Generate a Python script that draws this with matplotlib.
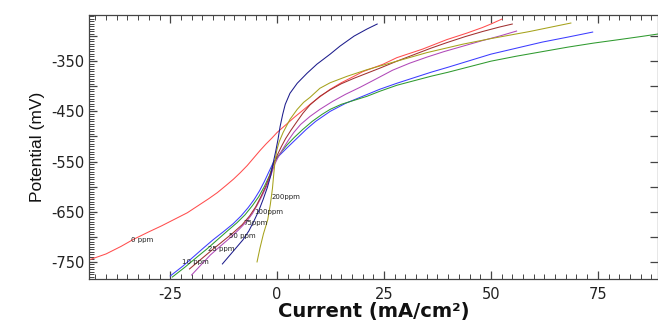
import matplotlib
matplotlib.use("Agg")
import matplotlib.pyplot as plt
from matplotlib.ticker import MultipleLocator, FixedLocator, FuncFormatter

plt.rcParams['axes.unicode_minus'] = False

# ---- data (current mA/cm^2, potential mV) ----
red_0_x = [-44, -40, -36.5, -33.6, -30, -27, -24, -21, -18.5, -16, -14, -12, -10.2, -8.6, -7, -5.5, -4, -2.6, -1.2, 0,
           2, 4, 6, 8, 10, 12.4, 15, 18, 20, 24.8, 28, 34, 39.7, 44.4, 48, 50, 52.6]
red_0_y = [-746, -734, -719, -705, -690, -678, -665, -652, -638, -624, -612, -598, -585, -572, -558, -543, -528, -515, -503, -492,
           -477, -462, -448, -434, -421, -406, -393, -380, -371, -356, -343, -326, -307, -294, -283, -276, -266]

blue_10_x = [-25, -22, -19.6, -17.2, -15, -12.6, -10.3, -8.4, -6.8, -5.4, -4.1, -3.0, -1.9, -0.9, 0.5, 2.4, 4.6, 6.8, 9,
             12.4, 16, 20, 24, 28, 32, 36, 40, 45, 50, 56, 62, 68, 73.8]
blue_10_y = [-778, -758, -740, -722, -706, -690, -674, -658, -642, -626, -608, -590, -570, -552, -538, -522, -504, -486, -470,
             -450, -434, -420, -406, -394, -383, -372, -362, -349, -336, -324, -312, -302, -292]

green_25_x = [-24.5, -21.5, -18.7, -16.4, -14, -11.6, -9.4, -7.5, -5.8, -4.3, -3.0, -1.8, -0.8, 0.5, 2.2, 4.0, 6.0, 8.2,
              10.5, 12.4, 15, 18, 21, 24, 28, 32, 36, 40, 45, 50, 56, 62, 68, 74, 80, 85, 89]
green_25_y = [-780, -760, -740, -724, -706, -688, -672, -656, -638, -620, -600, -578, -552, -536, -518, -502, -486, -470,
              -456, -446, -436, -428, -420, -410, -398, -389, -380, -372, -361, -350, -340, -331, -322, -314, -307, -301, -296]

magenta_50_x = [-20, -17.6, -15.6, -13.2, -11, -9, -7.2, -5.8, -4.6, -3.4, -2.3, -1.4, -0.6, 0.3, 1.4, 2.6, 3.9, 5.5, 7.7,
                10, 13, 16, 19.4, 23, 27, 31, 35, 39, 43.5, 48, 52, 56]
magenta_50_y = [-776, -754, -736, -718, -702, -686, -670, -654, -636, -616, -596, -576, -556, -540, -524, -508, -492, -476, -460,
                -446, -430, -416, -402, -386, -368, -354, -342, -331, -320, -309, -300, -290]

darkred_75_x = [-20.5, -18, -15.2, -12.6, -10.3, -8.2, -6.4, -5.0, -3.8, -2.7, -1.7, -0.8, 0.1, 1.0, 2.0, 3.2, 4.5, 6.0,
                7.7, 10, 12.4, 15, 18, 21, 24, 28, 32, 36, 39.7, 44, 48, 52, 55]
darkred_75_y = [-764, -746, -726, -708, -692, -676, -658, -640, -620, -600, -578, -554, -536, -520, -504, -488, -472, -454,
                -437, -420, -407, -395, -384, -374, -364, -350, -337, -324, -313, -301, -291, -282, -276]

navy_100_x = [-12.8, -11, -9.4, -8, -6.6, -5.4, -4.3, -3.3, -2.3, -1.5, -0.9, -0.3, 0.2, 0.7, 1.3, 1.9, 3, 4.7, 7, 9.3,
              12.4, 14.7, 18, 21, 23.4]
navy_100_y = [-754, -736, -720, -706, -688, -668, -648, -626, -602, -578, -552, -528, -506, -480, -456, -436, -414, -394, -374, -356,
              -336, -320, -300, -286, -276]

olive_200_x = [-4.7, -4.0, -3.2, -2.2, -1.6, -1.1, -0.8, -0.5, -0.1, 0.5, 1.4, 3.0, 4.7, 6.2, 7.7, 10, 12.4, 16.4, 21,
               28, 35, 43.5, 50, 59, 68.7]
olive_200_y = [-750, -722, -694, -666, -636, -604, -576, -550, -528, -510, -492, -466, -446, -432, -422, -404, -393, -380, -367,
               -350, -333, -316, -305, -291, -274]

series = [
    (red_0_x, red_0_y, '#ff4d4d'),
    (blue_10_x, blue_10_y, '#3c3cff'),
    (green_25_x, green_25_y, '#2f9a2f'),
    (magenta_50_x, magenta_50_y, '#b048b8'),
    (darkred_75_x, darkred_75_y, '#a03030'),
    (olive_200_x, olive_200_y, '#a6a21c'),
    (navy_100_x, navy_100_y, '#1c1c8c'),
]

label_texts = ['0 ppm', '10 ppm', '25 ppm', '50 ppm', '75ppm', '100ppm', '200ppm']
label_x = [-34.1, -22.2, -16.1, -11.2, -7.9, -5.4, -1.4]
label_y = [-706, -750, -724, -698, -672, -650, -620]

x_ticks = [-25, 0, 25, 50, 75]
y_labeled = [-750, -650, -550, -450, -350]

# ---- figure ----
fig = plt.figure(figsize=(6.58, 3.22), dpi=100)
ax = fig.add_axes([89/658, 1-279/322, 1-89/658 - 0.0005, (279-15)/322])

for xs, ys, c in series:
    ax.plot(xs, ys, color=c, lw=0.75)

for t, x, y in zip(label_texts, label_x, label_y):
    ax.text(x, y, t, fontsize=5, family='DejaVu Sans', color='#222222', va='center', ha='left')

ax.set_xlim(-44, 89)
ax.set_ylim(-784, -258)

ax.xaxis.set_major_locator(FixedLocator(x_ticks))
ax.xaxis.set_minor_locator(MultipleLocator(2.5))
ax.yaxis.set_major_locator(MultipleLocator(50))
ax.yaxis.set_minor_locator(MultipleLocator(5))
ax.yaxis.set_major_formatter(FuncFormatter(lambda v, p: f"{int(round(v))}" if int(round(v)) in y_labeled else ""))
ax.xaxis.set_major_formatter(FuncFormatter(lambda v, p: f"{int(round(v))}"))

for s in ax.spines.values():
    s.set_color('#444444')
    s.set_linewidth(0.9)

ax.tick_params(which='both', direction='in', top=True, right=True, colors='#444444', labelcolor='#222222')
ax.tick_params(which='major', length=6, width=0.9, labelsize=10.5)
ax.tick_params(which='minor', length=3.5, width=0.7)
ax.tick_params(axis='y', which='minor', left=True, right=False, length=3.5)
ax.tick_params(axis='x', pad=6)
for lab in ax.get_xticklabels() + ax.get_yticklabels():
    lab.set_family('DejaVu Sans')

ax.set_xlabel('Current (mA/cm²)', fontsize=14, fontweight='bold', family='DejaVu Sans', labelpad=0, color='#111111')
ax.set_ylabel('Potential (mV)', fontsize=12.5, family='Liberation Sans', labelpad=4, color='#111111')

fig.savefig('out.png', dpi=100)
